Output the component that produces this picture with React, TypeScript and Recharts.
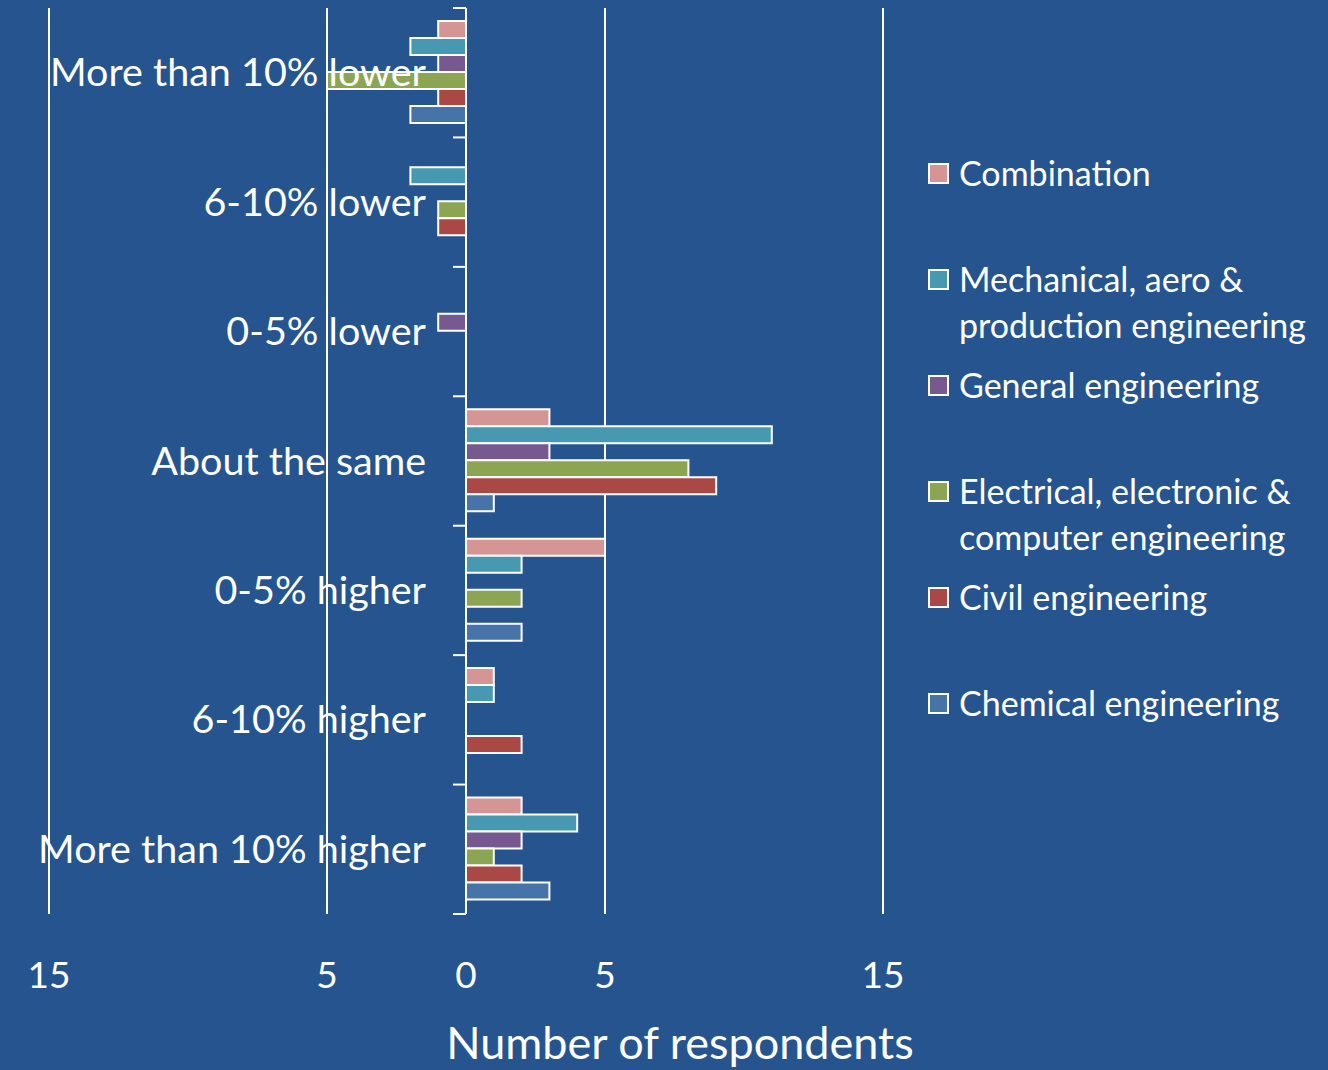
import React from 'react'
import { BarChart, Bar, XAxis, YAxis, CartesianGrid, Legend, Label } from 'recharts'

// salary comparison answers, grouped by engineering discipline
// (negative = "lower" side of the butterfly, drawn left of zero)
const categories = [
    'More than 10% lower',
    '6-10% lower',
    '0-5% lower',
    'About the same',
    '0-5% higher',
    '6-10% higher',
    'More than 10% higher',
]
const combination = [-1, 0, 0, 3, 5, 1, 2]
const mechanical = [-2, -2, 0, 11, 2, 1, 4]
const general = [-1, 0, -1, 3, 0, 0, 2]
const electrical = [-5, -1, 0, 8, 2, 0, 1]
const civil = [-1, -1, 0, 9, 0, 2, 2]
const chemical = [-2, 0, 0, 1, 2, 0, 3]
const xTicks = [-15, -5, 0, 5, 15]

const series = [
    { key: 'combination', name: 'Combination', values: combination, color: '#D69595' },
    { key: 'mechanical', name: 'Mechanical, aero & production engineering', values: mechanical, color: '#4699B1' },
    { key: 'general', name: 'General engineering', values: general, color: '#765A8F' },
    { key: 'electrical', name: 'Electrical, electronic & computer engineering', values: electrical, color: '#8CA553' },
    { key: 'civil', name: 'Civil engineering', values: civil, color: '#AA4846' },
    { key: 'chemical', name: 'Chemical engineering', values: chemical, color: '#4774A8' },
]

const data = categories.map((category, i) => {
    const row: Record<string, string | number> = { category }
    series.forEach((s) => {
        row[s.key] = s.values[i]
    })
    return row
})

const W = 1328
const H = 1070
const MARGIN = { top: 8, right: 445, bottom: 0, left: 48 }
const Y_AXIS_W = 1
const X_AXIS_H = 156
const DOMAIN: [number, number] = [-15, 15]
const PLOT_LEFT = MARGIN.left + Y_AXIS_W
const PLOT_W = W - PLOT_LEFT - MARGIN.right
const PLOT_H = H - MARGIN.top - MARGIN.bottom - X_AXIS_H
const ZERO_X = PLOT_LEFT + (PLOT_W * (0 - DOMAIN[0])) / (DOMAIN[1] - DOMAIN[0])
const BAND = PLOT_H / categories.length
const FONT = "Lato, 'Open Sans', sans-serif"
const BG = '#25548F'

const CategoryTick = (props: any) => {
    const { y, payload, index } = props
    const half = BAND / 2
    return (
        <g>
            <line x1={ZERO_X - 13} x2={ZERO_X} y1={y - half} y2={y - half} stroke="#fff" strokeWidth={2} />
            {index === categories.length - 1 && (
                <line x1={ZERO_X - 13} x2={ZERO_X} y1={y + half} y2={y + half} stroke="#fff" strokeWidth={2} />
            )}
            <text
                x={ZERO_X - 40}
                y={y}
                dy={-2}
                textAnchor="end"
                dominantBaseline="central"
                fill="#fff"
                fontSize={39.5}
                fontFamily={FONT}
            >
                {payload.value}
            </text>
        </g>
    )
}

const ValueTick = (props: any) => {
    const { x, y, payload } = props
    return (
        <text x={x} y={y} dy={51} textAnchor="middle" dominantBaseline="central" fill="#fff" fontSize={37} fontFamily={FONT}>
            {Math.abs(payload.value)}
        </text>
    )
}

const renderLegend = (props: any) => {
    const payload: any[] = props.payload || []
    // keep the series order, not the alphabetical one
    const items = series
        .map((s) => payload.find((p) => p.dataKey === s.key))
        .filter(Boolean)
    return (
        <div style={{ fontFamily: FONT, color: '#fff' }}>
            {items.map((p: any) => (
                <div key={p.value} style={{ display: 'flex', alignItems: 'flex-start', height: 106 }}>
                    <span
                        style={{
                            display: 'inline-block',
                            flex: 'none',
                            width: 17,
                            height: 17,
                            marginTop: 13,
                            marginRight: 10,
                            background: p.color,
                            border: '2px solid #fff',
                        }}
                    />
                    <span style={{ fontSize: 34, lineHeight: '46px', width: 360 }}>{p.value}</span>
                </div>
            ))}
        </div>
    )
}

export default function App() {
    return (
        <div style={{ width: W, height: H, background: BG }}>
            <style>{'body{margin:0}'}</style>
            <BarChart
                width={W}
                height={H}
                data={data}
                layout="vertical"
                margin={MARGIN}
                barCategoryGap="10%"
                barGap={0}
            >
                <CartesianGrid horizontal={false} stroke="#fff" strokeWidth={2} />
                <XAxis
                    type="number"
                    domain={DOMAIN}
                    ticks={xTicks}
                    height={X_AXIS_H}
                    axisLine={false}
                    tickLine={false}
                    tick={<ValueTick />}
                    interval={0}
                >
                    <Label
                        value="Number of respondents"
                        position="insideBottom"
                        offset={11}
                        dx={214}
                        fill="#fff"
                        fontSize={45}
                        fontFamily={FONT}
                    />
                </XAxis>
                <YAxis
                    type="category"
                    dataKey="category"
                    width={Y_AXIS_W}
                    axisLine={false}
                    tickLine={false}
                    interval={0}
                    tick={<CategoryTick />}
                />
                <Legend
                    layout="vertical"
                    align="center"
                    verticalAlign="middle"
                    content={renderLegend}
                    wrapperStyle={{ left: 928, top: 150, width: 400 }}
                />
                {series.map((s) => (
                    <Bar
                        key={s.key}
                        dataKey={s.key}
                        name={s.name}
                        fill={s.color}
                        stroke="#fff"
                        strokeWidth={2}
                        isAnimationActive={false}
                    />
                ))}
            </BarChart>
        </div>
    )
}
